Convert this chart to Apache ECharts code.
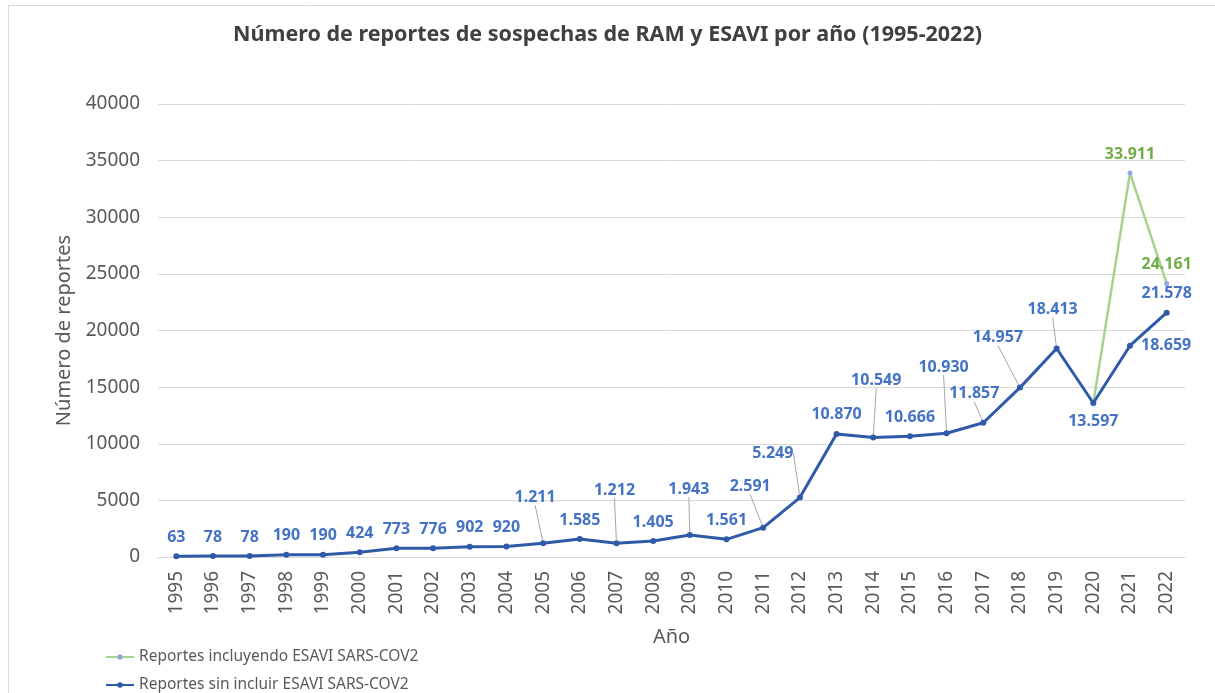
<!DOCTYPE html>
<html>
<head>
<meta charset="utf-8">
<title>Reportes RAM y ESAVI</title>
<script src="https://cdn.jsdelivr.net/npm/echarts@6/dist/echarts.min.js"></script>
<style>
    html, body {margin: 0; padding: 0; background: #fff;}
    #chart {width: 1215px; height: 693px;}
</style>
</head>
<body>
<div id="chart"></div>
<script>
// datos
var years = ['1995', '1996', '1997', '1998', '1999', '2000', '2001', '2002', '2003', '2004',
    '2005', '2006', '2007', '2008', '2009', '2010', '2011', '2012', '2013', '2014',
    '2015', '2016', '2017', '2018', '2019', '2020', '2021', '2022'];
var sinCovid = [63, 78, 78, 190, 190, 424, 773, 776, 902, 920,
    1211, 1585, 1212, 1405, 1943, 1561, 2591, 5249, 10870, 10549,
    10666, 10930, 11857, 14957, 18413, 13597, 18659, 21578];
// solo 2020-2022 para la serie con ESAVI SARS-COV2
var conCovidYears = ['2020', '2021', '2022'];
var conCovid = [13597, 33911, 24161];
var yTicks = [0, 5000, 10000, 15000, 20000, 25000, 30000, 35000, 40000];

// desplazamiento de etiquetas con línea guía (índice -> [dx, dy])
var labelShift = {
    10: [-8, -27],
    12: [-2, -34],
    14: [-1, -27],
    16: [-13, -22],
    17: [-27, -25],
    19: [3, -38],
    21: [-3, -47],
    22: [-9, -10],
    23: [-22, -31],
    24: [-4, -20]
};

var BLUE = '#2F5AA8';
var BLUE_TXT = '#4472C4';
var GREEN = '#A9D18E';
var GREEN_TXT = '#70AD47';
var FONT = 'Noto Sans';
var SERIE_VERDE = 'Reportes incluyendo ESAVI SARS-COV2';
var SERIE_AZUL = 'Reportes sin incluir ESAVI SARS-COV2';

function fmt(v) {
    return String(v).replace(/\B(?=(\d{3})+(?!\d))/g, '.');
}

var chart = echarts.init(document.getElementById('chart'));

var blueData = sinCovid.map(function(v, i) {
    var item = {value: v};
    if (labelShift[i]) {
        item.labelLine = {show: true};
    }
    if (years[i] === '2020') {
        item.label = {position: 'bottom', distance: 7};
    }
    if (years[i] === '2021') {
        item.label = {position: 'right', distance: 8, offset: [0, 7]};
    }
    return item;
});

var greenData = years.map(function(y) {
    var k = conCovidYears.indexOf(y);
    if (k < 0) {
        return null;
    }
    var item = {value: conCovid[k]};
    if (y === '2020') {
        item.label = {show: false};
    }
    return item;
});

var legendBase = {
    left: 100,
    itemWidth: 28,
    itemHeight: 7,
    textStyle: {fontFamily: FONT, fontSize: 15.5, color: '#595959'}
};

var option = {
    backgroundColor: '#fff',
    textStyle: {fontFamily: FONT},
    title: {
        text: 'Número de reportes de sospechas de RAM y ESAVI por año (1995-2022)',
        left: 'center',
        top: 19,
        textStyle: {fontFamily: FONT, fontSize: 21.5, fontWeight: 'bold', color: '#404040'}
    },
    // dos leyendas, una debajo de la otra
    legend: [
        Object.assign({top: 644, data: [SERIE_VERDE]}, legendBase),
        Object.assign({top: 672, data: [SERIE_AZUL]}, legendBase)
    ],
    grid: {left: 158, right: 30, top: 104, bottom: 136},
    xAxis: {
        type: 'category',
        data: years,
        name: 'Año',
        nameLocation: 'middle',
        nameGap: 70,
        nameTextStyle: {fontSize: 20, color: '#595959'},
        axisLine: {show: true, lineStyle: {color: '#D9D9D9'}},
        axisTick: {show: false},
        axisLabel: {rotate: 90, margin: 14, fontSize: 19, color: '#595959', interval: 0}
    },
    yAxis: {
        type: 'value',
        min: yTicks[0],
        max: yTicks[yTicks.length - 1],
        interval: yTicks[1] - yTicks[0],
        name: 'Número de reportes',
        nameLocation: 'middle',
        nameGap: 79,
        nameRotate: 90,
        nameTextStyle: {fontSize: 20, color: '#595959'},
        axisLine: {show: false},
        axisTick: {show: false},
        axisLabel: {
            margin: 18,
            fontSize: 19,
            color: '#595959',
            formatter: function(v) {
                return String(v);
            }
        },
        splitLine: {lineStyle: {color: '#D9D9D9', width: 1}}
    },
    series: [
        {
            name: SERIE_VERDE,
            type: 'line',
            data: greenData,
            connectNulls: false,
            symbol: 'circle',
            symbolSize: 5,
            lineStyle: {color: GREEN, width: 2.5},
            itemStyle: {color: '#8FAADC'},
            label: {
                show: true,
                position: 'top',
                distance: 8,
                fontFamily: FONT,
                fontSize: 16,
                fontWeight: 'bold',
                color: GREEN_TXT,
                formatter: function(p) {
                    return fmt(p.value);
                }
            },
            z: 2
        },
        {
            name: SERIE_AZUL,
            type: 'line',
            data: blueData,
            symbol: 'circle',
            symbolSize: 6,
            lineStyle: {color: BLUE, width: 3},
            itemStyle: {color: BLUE},
            label: {
                show: true,
                position: 'top',
                distance: 8,
                fontFamily: FONT,
                fontSize: 16,
                fontWeight: 'bold',
                color: BLUE_TXT,
                formatter: function(p) {
                    return fmt(p.value);
                }
            },
            labelLine: {
                show: false,
                lineStyle: {color: '#A6A6A6', width: 1}
            },
            labelLayout: function(params) {
                var s = labelShift[params.dataIndex];
                if (!s) {
                    return {};
                }
                return {dx: s[0], dy: s[1]};
            },
            z: 3
        }
    ],
    graphic: [
        {
            type: 'rect',
            silent: true,
            shape: {x: 8.5, y: 5.5, width: 1400, height: 900},
            style: {fill: 'none', stroke: '#D9D9D9', lineWidth: 1}
        }
    ]
};

chart.setOption(option);
</script>
</body>
</html>
